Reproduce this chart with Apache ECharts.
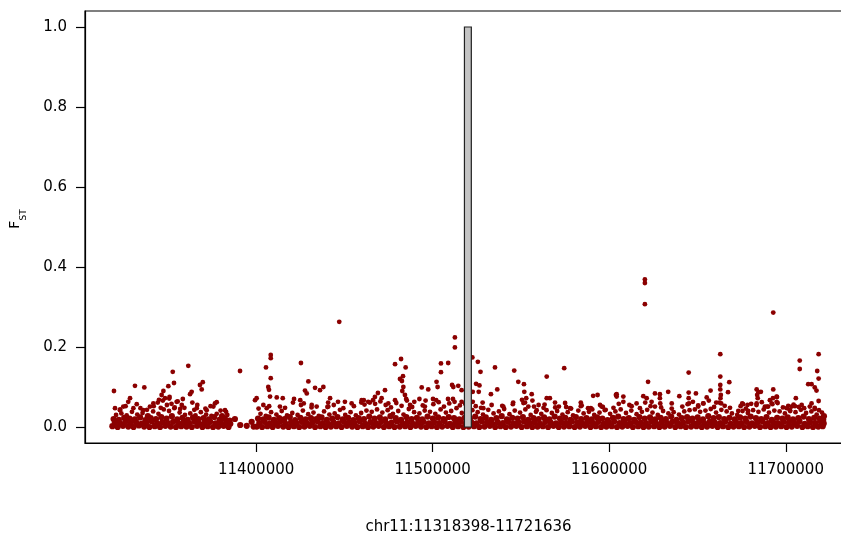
<!DOCTYPE html>
<html>
<head>
<meta charset="utf-8">
<script src="https://cdn.jsdelivr.net/npm/echarts@6.0.0/dist/echarts.min.js"></script>
<style>html,body{margin:0;padding:0;background:#fff;overflow:hidden}#chart{width:841px;height:541px}</style>
</head>
<body>
<div id="chart"></div>
<script>
// Positions in kb on chr11, FST values
const xTickLabels = [11400000, 11500000, 11600000, 11700000];
const yTickLabels = [0, 0.2, 0.4, 0.6, 0.8, 1.0];
const xAxisTitle = 'chr11:11318398-11721636';
// highlighted window: [startKb, endKb, fstLow, fstHigh]
const peakWindow = [[11518.0, 11521.9, 0, 1.0]];

const denseSnpsLeft = [
[11318.6,.002],[11320.0,.011],[11319.3,.020],[11320.7,.030],
[11321.6,0],[11323.0,.009],[11322.3,.018],[11323.7,.034],
[11324.6,.003],[11326.0,.013],[11325.3,.023],[11326.7,.029],
[11327.6,.001],[11329.0,.010],[11328.3,.021],[11329.7,.038],
[11330.6,0],[11332.0,.012],[11331.3,.019],[11332.7,.031],
[11333.6,.004],[11335.0,.008],[11334.3,.024],[11335.7,.035],
[11336.6,.001],[11338.0,.011],[11337.3,.017],[11338.7,.027],
[11339.6,0],[11341.0,.014],[11340.3,.022],[11341.7,.039],
[11342.6,.002],[11344.0,.009],[11343.3,.020],[11344.7,.033],
[11345.6,0],[11347.0,.012],[11346.3,.025],[11347.7,.044],
[11348.6,.003],[11350.0,.010],[11349.3,.021],[11350.7,.040],
[11351.6,.001],[11353.0,.013],[11352.3,.027],[11353.7,.047],
[11354.6,0],[11356.0,.009],[11355.3,.019],[11356.7,.036],
[11357.6,.002],[11359.0,.012],[11358.3,.023],[11359.7,.030],
[11360.6,.001],[11362.0,.010],[11361.3,.018],[11362.7,.034],
[11363.6,0],[11365.0,.014],[11364.3,.024],[11365.7,.029],
[11366.6,.003],[11368.0,.008],[11367.3,.020],[11368.7,.037],
[11369.6,0],[11371.0,.011],[11370.3,.022],[11371.7,.031],
[11372.6,.002],[11374.0,.013],[11373.3,.019],[11374.7,.028],
[11375.6,0],[11377.0,.009],[11376.3,.025],[11377.7,.033],
[11378.6,.001],[11380.0,.012],[11379.3,.018],[11380.7,.027],
[11381.6,.003],[11383.0,.010],[11382.3,.021],[11383.7,.030],
[11384.4,0],[11385.4,.008],[11385.0,.016],
[11342.0,.052],[11344.3,.061],[11346.0,.048],[11347.2,.066],[11349.5,.055],[11350.8,.071],
[11352.1,.058],[11353.9,.049],[11355.6,.064],[11357.0,.045],[11323.0,.044],[11326.1,.052],
[11334.5,.047],[11338.2,.043],[11359.4,.048],[11365.0,.043],[11371.3,.046],[11374.2,.052],
[11379.9,.041],[11383.0,.038]
];

const gapSnps = [
[11388.0,.020],[11391.0,.005],[11394.7,.003],[11397.5,.013],[11398.6,.001],[11390.9,.140]
];

const denseSnpsRight = [
[11400.4,.001],[11401.8,.010],[11401.1,.021],[11402.5,.033],[11401.4,.046],
[11403.4,0],[11404.8,.013],[11404.1,.019],[11405.5,.028],
[11406.4,.002],[11407.8,.009],[11407.1,.024],[11408.5,.037],[11407.4,.052],
[11409.4,0],[11410.8,.011],[11410.1,.018],[11411.5,.031],
[11412.4,.003],[11413.8,.014],[11413.1,.022],[11414.5,.040],
[11415.4,.001],[11416.8,.008],[11416.1,.020],[11417.5,.029],[11416.4,.048],
[11418.4,0],[11419.8,.012],[11419.1,.025],[11420.5,.035],
[11421.4,.002],[11422.8,.010],[11422.1,.017],[11423.5,.030],
[11424.4,0],[11425.8,.013],[11425.1,.023],[11426.5,.041],[11425.4,.055],
[11427.4,.001],[11428.8,.009],[11428.1,.019],[11429.5,.032],
[11430.4,.003],[11431.8,.011],[11431.1,.022],[11432.5,.036],[11431.4,.049],
[11433.4,0],[11434.8,.014],[11434.1,.020],[11435.5,.028],
[11436.4,.002],[11437.8,.010],[11437.1,.024],[11438.5,.039],
[11439.4,0],[11440.8,.008],[11440.1,.018],[11441.5,.031],[11440.4,.050],
[11442.4,.001],[11443.8,.012],[11443.1,.021],[11444.5,.034],
[11445.4,.002],[11446.8,.009],[11446.1,.025],[11447.5,.043],
[11448.4,0],[11449.8,.013],[11449.1,.019],[11450.5,.030],[11449.4,.047],
[11451.4,.003],[11452.8,.011],[11452.1,.023],[11453.5,.037],
[11454.4,.001],[11455.8,.010],[11455.1,.017],[11456.5,.029],[11455.4,.052],
[11457.4,0],[11458.8,.014],[11458.1,.022],[11459.5,.035],
[11460.4,.002],[11461.8,.008],[11461.1,.020],[11462.5,.041],[11461.4,.056],
[11463.4,0],[11464.8,.012],[11464.1,.026],[11465.5,.038],[11464.4,.061],
[11466.4,.001],[11467.8,.010],[11467.1,.021],[11468.5,.044],[11467.4,.058],
[11469.4,.003],[11470.8,.013],[11470.1,.024],[11471.5,.036],[11470.4,.064],
[11472.4,0],[11473.8,.009],[11473.1,.019],[11474.5,.042],[11473.4,.055],
[11475.4,.002],[11476.8,.011],[11476.1,.027],[11477.5,.033],[11476.4,.049],
[11478.4,0],[11479.8,.014],[11479.1,.022],[11480.5,.040],[11479.4,.060],
[11481.4,.001],[11482.8,.010],[11482.1,.018],[11483.5,.031],[11482.4,.053],
[11484.4,.002],[11485.8,.012],[11485.1,.025],[11486.5,.045],[11485.4,.066],
[11487.4,0],[11488.8,.008],[11488.1,.020],[11489.5,.037],[11488.4,.050],
[11490.4,.003],[11491.8,.011],[11491.1,.023],[11492.5,.034],
[11493.4,.001],[11494.8,.013],[11494.1,.019],[11495.5,.041],[11494.4,.054],
[11496.4,0],[11497.8,.009],[11497.1,.026],[11498.5,.038],
[11499.4,.002],[11500.8,.012],[11500.1,.021],[11501.5,.033],[11500.4,.057],
[11502.4,0],[11503.8,.010],[11503.1,.024],[11504.5,.044],[11503.4,.062],
[11505.4,.001],[11506.8,.014],[11506.1,.020],[11507.5,.036],[11506.4,.051],
[11508.4,.003],[11509.8,.008],[11509.1,.025],[11510.5,.040],[11509.4,.059],
[11511.4,0],[11512.8,.011],[11512.1,.022],[11513.5,.047],[11512.4,.063],
[11514.4,.002],[11515.8,.013],[11515.1,.019],[11516.5,.035],[11515.4,.054],
[11517.4,0],[11518.8,.010],[11518.1,.023],[11519.5,.039],[11518.4,.058],
[11520.4,.001],[11521.8,.012],[11521.1,.021],[11522.5,.042],
[11523.4,.002],[11524.8,.009],[11524.1,.026],[11525.5,.037],[11524.4,.052],
[11526.4,0],[11527.8,.014],[11527.1,.020],[11528.5,.031],[11527.4,.048],
[11529.4,.001],[11530.8,.011],[11530.1,.024],[11531.5,.043],
[11532.4,.003],[11533.8,.008],[11533.1,.018],[11534.5,.034],[11533.4,.055],
[11535.4,0],[11536.8,.012],[11536.1,.022],[11537.5,.039],
[11538.4,.002],[11539.8,.010],[11539.1,.027],[11540.5,.045],[11539.4,.053],
[11541.4,0],[11542.8,.013],[11542.1,.019],[11543.5,.032],
[11544.4,.001],[11545.8,.009],[11545.1,.023],[11546.5,.041],[11545.4,.057],
[11547.4,.003],[11548.8,.011],[11548.1,.021],[11549.5,.036],
[11550.4,0],[11551.8,.014],[11551.1,.025],[11552.5,.044],[11551.4,.060],
[11553.4,.002],[11554.8,.010],[11554.1,.018],[11555.5,.030],
[11556.4,0],[11557.8,.012],[11557.1,.022],[11558.5,.038],[11557.4,.051],
[11559.4,.001],[11560.8,.008],[11560.1,.020],[11561.5,.033],
[11562.4,.002],[11563.8,.013],[11563.1,.024],[11564.5,.042],[11563.4,.056],
[11565.4,0],[11566.8,.011],[11566.1,.019],[11567.5,.035],
[11568.4,.003],[11569.8,.009],[11569.1,.026],[11570.5,.040],[11569.4,.049],
[11571.4,0],[11572.8,.012],[11572.1,.021],[11573.5,.031],
[11574.4,.001],[11575.8,.010],[11575.1,.023],[11576.5,.037],
[11577.4,.002],[11578.8,.014],[11578.1,.018],[11579.5,.029],[11578.4,.046],
[11580.4,0],[11581.8,.011],[11581.1,.025],[11582.5,.041],
[11583.4,.001],[11584.8,.009],[11584.1,.020],[11585.5,.034],[11584.4,.054],
[11586.4,.003],[11587.8,.012],[11587.1,.022],[11588.5,.038],
[11589.4,0],[11590.8,.010],[11590.1,.019],[11591.5,.030],[11590.4,.044],
[11592.4,.002],[11593.8,.013],[11593.1,.024],[11594.5,.036],
[11595.4,0],[11596.8,.008],[11596.1,.021],[11597.5,.042],[11596.4,.050],
[11598.4,.001],[11599.8,.011],[11599.1,.017],[11600.5,.033],
[11601.4,.002],[11602.8,.014],[11602.1,.023],[11603.5,.039],[11602.4,.048],
[11604.4,0],[11605.8,.010],[11605.1,.026],[11606.5,.044],[11605.4,.058],
[11607.4,.001],[11608.8,.012],[11608.1,.020],[11609.5,.035],
[11610.4,.003],[11611.8,.009],[11611.1,.022],[11612.5,.041],[11611.4,.055],
[11613.4,0],[11614.8,.013],[11614.1,.018],[11615.5,.032],
[11616.4,.002],[11617.8,.011],[11617.1,.025],[11618.5,.038],[11617.4,.047],
[11619.4,0],[11620.8,.010],[11620.1,.021],[11621.5,.043],[11620.4,.061],
[11622.4,.001],[11623.8,.014],[11623.1,.024],[11624.5,.036],[11623.4,.052],
[11625.4,.002],[11626.8,.008],[11626.1,.019],[11627.5,.030],
[11628.4,0],[11629.8,.012],[11629.1,.023],[11630.5,.040],[11629.4,.049],
[11631.4,.001],[11632.8,.010],[11632.1,.020],[11633.5,.034],
[11634.4,.003],[11635.8,.013],[11635.1,.026],[11636.5,.037],[11635.4,.046],
[11637.4,0],[11638.8,.009],[11638.1,.018],[11639.5,.031],
[11640.4,.002],[11641.8,.011],[11641.1,.022],[11642.5,.039],[11641.4,.051],
[11643.4,0],[11644.8,.014],[11644.1,.025],[11645.5,.042],[11644.4,.057],
[11646.4,.001],[11647.8,.010],[11647.1,.021],[11648.5,.044],[11647.4,.063],
[11649.4,.002],[11650.8,.012],[11650.1,.024],[11651.5,.038],[11650.4,.054],
[11652.4,0],[11653.8,.009],[11653.1,.019],[11654.5,.041],[11653.4,.059],
[11655.4,.001],[11656.8,.013],[11656.1,.027],[11657.5,.045],[11656.4,.066],
[11658.4,.003],[11659.8,.011],[11659.1,.022],[11660.5,.036],[11659.4,.050],
[11661.4,0],[11662.8,.010],[11662.1,.025],[11663.5,.043],[11662.4,.061],
[11664.4,.002],[11665.8,.014],[11665.1,.020],[11666.5,.039],[11665.4,.053],
[11667.4,0],[11668.8,.008],[11668.1,.023],[11669.5,.034],[11668.4,.048],
[11670.4,.001],[11671.8,.012],[11671.1,.019],[11672.5,.030],
[11673.4,.002],[11674.8,.010],[11674.1,.024],[11675.5,.040],[11674.4,.052],
[11676.4,0],[11677.8,.013],[11677.1,.021],[11678.5,.035],[11677.4,.046],
[11679.4,.001],[11680.8,.009],[11680.1,.026],[11681.5,.042],[11680.4,.058],
[11682.4,.003],[11683.8,.011],[11683.1,.022],[11684.5,.038],[11683.4,.055],
[11685.4,0],[11686.8,.014],[11686.1,.020],[11687.5,.044],[11686.4,.062],
[11688.4,.002],[11689.8,.010],[11689.1,.025],[11690.5,.036],[11689.4,.051],
[11691.4,0],[11692.8,.012],[11692.1,.018],[11693.5,.041],[11692.4,.057],
[11694.4,.001],[11695.8,.009],[11695.1,.023],[11696.5,.039],[11695.4,.060],
[11697.4,.002],[11698.8,.013],[11698.1,.021],[11699.5,.034],[11698.4,.049],
[11700.4,0],[11701.8,.011],[11701.1,.024],[11702.5,.040],[11701.4,.053],
[11703.4,.001],[11704.8,.010],[11704.1,.019],[11705.5,.037],[11704.4,.056],
[11706.4,.003],[11707.8,.014],[11707.1,.022],[11708.5,.043],[11707.4,.050],
[11709.4,0],[11710.8,.008],[11710.1,.026],[11711.5,.035],[11710.4,.047],
[11712.4,.002],[11713.8,.012],[11713.1,.020],[11714.5,.039],
[11715.4,0],[11716.8,.010],[11716.1,.023],[11717.5,.031],[11716.4,.045],
[11718.4,.001],[11719.8,.013],[11719.1,.021],[11720.5,.036],
[11720.9,.002],[11721.5,.009],[11721.2,.018],[11721.6,.027]
];

const midSnps = [
[11324.8,.051],[11330.5,.047],[11339.9,.051],[11357.9,.055],[11366.4,.047],[11372.0,.042],
[11375.8,.051],[11406.0,.047],[11413.5,.051],[11431.5,.055],[11434.3,.051],[11440.9,.051],
[11454.1,.059],[11459.8,.067],[11463.5,.063],[11471.1,.072],[11474.9,.059],[11478.7,.067],
[11487.2,.055],[11495.6,.051],[11516.4,.063],[11528.7,.047],[11540.0,.051],[11554.2,.051],
[11558.9,.042],[11577.8,.047],[11594.8,.055],[11615.5,.059],[11625.9,.051],[11650.4,.051],
[11673.1,.040],[11678.7,.040],[11688.2,.051],[11700.5,.047],[11709.0,.055]
];

const scatterSnpsLeft = [
[11319.5,.090],[11331.4,.103],[11336.7,.099],[11361.6,.153],[11352.8,.138],[11353.5,.110],
[11350.3,.102],[11347.5,.090],[11346.5,.080],[11348.4,.072],[11328.6,.072],[11327.6,.063],
[11332.4,.057],[11341.8,.059],[11363.5,.088],[11362.6,.082],[11368.2,.105],[11369.8,.112],
[11369.2,.094],[11355.0,.063],[11363.9,.061],[11366.7,.055],[11377.7,.062],[11320.1,.047],
[11322.9,.042],[11336.1,.042],[11382.4,.042],[11351.0,.075],[11345.0,.068],[11358.5,.070],
[11376.7,.059]
];

const scatterSnpsRight = [
[11405.6,.149],[11408.3,.180],[11408.3,.172],[11408.3,.122],[11406.9,.100],[11407.3,.093],
[11407.9,.076],[11400.3,.072],[11399.4,.067],[11411.7,.074],[11415.1,.072],[11404.1,.055],
[11425.4,.160],[11429.6,.114],[11427.7,.091],[11428.7,.084],[11433.4,.098],[11436.2,.092],
[11438.1,.100],[11441.9,.072],[11421.5,.070],[11420.9,.061],[11425.0,.067],[11427.0,.059],
[11440.8,.061],[11447.1,.263],[11450.3,.063],[11446.4,.063],[11444.0,.055],
[11478.7,.157],[11482.1,.170],[11484.7,.149],[11483.2,.127],[11481.5,.120],[11482.6,.115],
[11483.4,.100],[11482.8,.090],[11484.3,.080],[11485.0,.070],[11493.8,.099],[11497.5,.094],
[11502.2,.113],[11502.8,.100],[11504.7,.159],[11508.8,.160],[11504.7,.137],[11512.6,.224],
[11512.6,.199],[11511.0,.105],[11511.7,.100],[11514.5,.103],[11516.4,.092],[11489.6,.063],
[11473.0,.092],[11469.0,.085],[11467.3,.075],[11466.2,.067],[11461.0,.067],[11459.6,.061],
[11500.2,.070],[11508.7,.070],[11511.5,.070],[11502.0,.067],[11492.5,.070],[11496.0,.066],
[11522.5,.174],[11525.6,.163],[11527.1,.138],[11524.6,.108],[11526.5,.104],[11522.7,.088],
[11526.1,.088],[11522.7,.063],[11528.3,.061],[11535.3,.149],[11536.6,.094],[11533.0,.082],
[11546.2,.141],[11548.5,.113],[11551.7,.107],[11551.9,.088],[11556.1,.082],[11545.6,.061],
[11550.6,.068],[11552.3,.061],[11564.6,.126],[11564.6,.072],[11566.4,.072],[11574.5,.147],
[11569.3,.061],[11571.5,.051],[11583.9,.061],[11583.9,.052],[11593.4,.080],[11589.6,.047],
[11595.7,.051],[11604.2,.082],[11604.2,.076],[11608.0,.076],[11608.0,.063],[11612.7,.052],
[11619.3,.077],[11621.2,.072],[11624.0,.063],[11622.0,.113],[11625.9,.084],
[11553.0,.072],[11556.5,.066],[11560.0,.055],[11562.8,.048],[11575.0,.060],[11575.6,.050],
[11620.2,.369],[11620.2,.360],[11620.2,.307],[11692.9,.286],[11662.9,.182],[11718.6,.182],
[11707.9,.166],[11707.9,.145],[11645.0,.136],[11662.9,.126],[11662.9,.105],[11662.9,.094],
[11663.2,.080],[11663.0,.072],[11663.4,.059],[11668.0,.112],[11667.3,.087],[11717.8,.140],
[11718.6,.121],[11712.7,.107],[11714.6,.107],[11716.4,.099],[11717.4,.091],[11718.6,.065],
[11713.6,.051],[11692.9,.094],[11683.5,.094],[11684.5,.087],[11683.8,.080],[11685.9,.088],
[11675.8,.057],[11705.7,.072],[11691.0,.067],[11692.7,.072],[11695.0,.075],[11590.9,.078],
[11603.8,.080],[11628.7,.082],[11628.7,.072],[11633.4,.088],[11639.7,.077],[11645.0,.086],
[11645.0,.072],[11649.1,.084],[11655.2,.074],[11657.4,.091],[11628.9,.059],[11635.4,.059],
[11645.2,.059],[11653.2,.059],[11660.6,.061],[11675.3,.059],[11678.3,.055],[11714.6,.059],
[11716.4,.048],[11718.8,.042],[11588.0,.047],[11598.0,.043],[11703.3,.051],[11705.2,.052],
[11702.3,.042],[11692.0,.059],[11690.0,.051],[11694.8,.076],[11694.8,.063],[11684.1,.072],
[11683.5,.059]
];

const allSnps = denseSnpsLeft.concat(gapSnps, denseSnpsRight, midSnps, scatterSnpsLeft, scatterSnpsRight)
  .map(p => [Math.round(p[0] * 1000), p[1]]);
const peakData = peakWindow.map(w => [w[0] * 1000, w[1] * 1000, w[2], w[3]]);

const FONT = 'DejaVu Sans';
const chart = echarts.init(document.getElementById('chart'), null, {renderer: 'canvas'});
chart.setOption({
  animation: false,
  backgroundColor: '#ffffff',
  grid: {
    left: 85, top: 11, width: 767, height: 432,
    show: true, borderColor: '#000', borderWidth: 1.2,
    containLabel: false, outerBoundsMode: 'none'
  },
  xAxis: {
    type: 'value', min: 11303100, max: 11737500,
    axisLine: {show: true, onZero: false, lineStyle: {color: '#000', width: 1.2}},
    axisTick: {show: true, length: 9, lineStyle: {color: '#000', width: 1.2}, customValues: xTickLabels},
    axisLabel: {show: true, customValues: xTickLabels, formatter: v => String(v), color: '#000', fontFamily: FONT, fontSize: 15, margin: 20},
    splitLine: {show: false},
    name: xAxisTitle, nameLocation: 'middle', nameGap: 77,
    nameTextStyle: {color: '#000', fontFamily: FONT, fontSize: 15}
  },
  yAxis: {
    type: 'value', min: -0.04, max: 1.04,
    axisLine: {show: true, onZero: false, lineStyle: {color: '#000', width: 1.2}},
    axisTick: {show: true, length: 9, lineStyle: {color: '#000', width: 1.2}, customValues: yTickLabels},
    axisLabel: {show: true, customValues: yTickLabels, formatter: v => v.toFixed(1), color: '#000', fontFamily: FONT, fontSize: 15, margin: 18},
    splitLine: {show: false},
    name: '{f|F}{s|ST}', nameLocation: 'middle', nameRotate: 90, nameGap: 57,
    nameTextStyle: {
      color: '#000', fontFamily: FONT, padding: [0, 0, 0, 16],
      rich: {
        f: {fontSize: 14, fontFamily: FONT, color: '#000', lineHeight: 20, verticalAlign: 'top'},
        s: {fontSize: 9, fontFamily: FONT, color: '#000', lineHeight: 12, verticalAlign: 'bottom'}
      }
    }
  },
  series: [
    {
      type: 'scatter', data: allSnps, symbol: 'circle',
      symbolSize: v => (v[1] < 0.028 ? 6.2 : 4.8),
      itemStyle: {color: '#8b0000', opacity: 1}, silent: true, z: 2
    },
    {
      type: 'custom', data: peakData, encode: {x: [0, 1], y: [2, 3]}, z: 3, silent: true,
      renderItem: function (params, api) {
        const p0 = api.coord([api.value(0), api.value(3)]);
        const p1 = api.coord([api.value(1), api.value(2)]);
        return {
          type: 'rect',
          shape: {x: p0[0], y: p0[1], width: p1[0] - p0[0], height: p1[1] - p0[1]},
          style: {fill: '#c4c4c4', stroke: '#222', lineWidth: 1.2}
        };
      }
    }
  ]
});
</script>
</body>
</html>
